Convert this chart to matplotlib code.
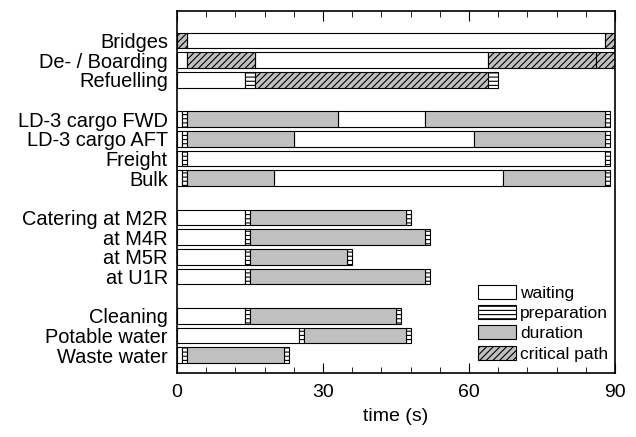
import matplotlib
matplotlib.use("Agg")
import matplotlib.pyplot as plt
from matplotlib.patches import Patch
from matplotlib.ticker import MultipleLocator

plt.rcParams["font.family"] = "Liberation Sans"
plt.rcParams["hatch.linewidth"] = 0.8

labels = ["Bridges", "De- / Boarding", "Refuelling",
          "LD-3 cargo FWD", "LD-3 cargo AFT", "Freight", "Bulk",
          "Catering at M2R", "at M4R", "at M5R", "at U1R",
          "Cleaning", "Potable water", "Waste water"]
rows = [0, 1, 2, 4, 5, 6, 7, 9, 10, 11, 12, 14, 15, 16]

# (row label, start, end) in seconds
waiting = [("Bridges", 2, 88),
           ("De- / Boarding", 0, 2), ("De- / Boarding", 16, 64),
           ("Refuelling", 0, 14),
           ("LD-3 cargo FWD", 0, 1), ("LD-3 cargo FWD", 33, 51),
           ("LD-3 cargo AFT", 0, 1), ("LD-3 cargo AFT", 24, 61),
           ("Freight", 0, 1), ("Freight", 2, 88),
           ("Bulk", 0, 1), ("Bulk", 20, 67),
           ("Catering at M2R", 0, 14), ("at M4R", 0, 14),
           ("at M5R", 0, 14), ("at U1R", 0, 14),
           ("Cleaning", 0, 14), ("Potable water", 0, 25),
           ("Waste water", 0, 1)]

preparation = [("Refuelling", 14, 16), ("Refuelling", 64, 66),
               ("LD-3 cargo FWD", 1, 2), ("LD-3 cargo FWD", 88, 89),
               ("LD-3 cargo AFT", 1, 2), ("LD-3 cargo AFT", 88, 89),
               ("Freight", 1, 2), ("Freight", 88, 89),
               ("Bulk", 1, 2), ("Bulk", 88, 89),
               ("Catering at M2R", 14, 15), ("Catering at M2R", 47, 48),
               ("at M4R", 14, 15), ("at M4R", 51, 52),
               ("at M5R", 14, 15), ("at M5R", 35, 36),
               ("at U1R", 14, 15), ("at U1R", 51, 52),
               ("Cleaning", 14, 15), ("Cleaning", 45, 46),
               ("Potable water", 25, 26), ("Potable water", 47, 48),
               ("Waste water", 1, 2), ("Waste water", 22, 23)]

duration = [("LD-3 cargo FWD", 2, 33), ("LD-3 cargo FWD", 51, 88),
            ("LD-3 cargo AFT", 2, 24), ("LD-3 cargo AFT", 61, 88),
            ("Bulk", 2, 20), ("Bulk", 67, 88),
            ("Catering at M2R", 15, 47), ("at M4R", 15, 51),
            ("at M5R", 15, 35), ("at U1R", 15, 51),
            ("Cleaning", 15, 45), ("Potable water", 26, 47),
            ("Waste water", 2, 22)]

critical = [("Bridges", 0, 2), ("Bridges", 88, 90),
            ("De- / Boarding", 2, 16), ("De- / Boarding", 64, 86),
            ("De- / Boarding", 86, 90),
            ("Refuelling", 16, 64)]

styles = {
    "waiting": dict(facecolor="white", hatch=None),
    "preparation": dict(facecolor="white", hatch="----"),
    "duration": dict(facecolor="#c0c0c0", hatch=None),
    "critical path": dict(facecolor="#c0c0c0", hatch="/////"),
}

pos = dict(zip(labels, rows))

fig = plt.figure(figsize=(6.36, 4.37), dpi=100)
ax = fig.add_axes([0.2783, 0.1465, 0.6887, 0.8283])

for name, segs in [("waiting", waiting), ("preparation", preparation),
                   ("duration", duration), ("critical path", critical)]:
    st = styles[name]
    ax.barh([pos[s[0]] for s in segs], [s[2] - s[1] for s in segs],
            left=[s[1] for s in segs], height=0.8,
            facecolor=st["facecolor"], hatch=st["hatch"],
            edgecolor="black", linewidth=0.8)

ax.set_xlim(0, 90)
ax.set_ylim(16.9, -1.5)
ax.set_yticks(rows)
ax.set_yticklabels(labels, fontsize=14.4)
ax.xaxis.set_major_locator(MultipleLocator(30))
ax.xaxis.set_minor_locator(MultipleLocator(6))
ax.tick_params(axis="x", which="both", direction="in", top=True,
               labelsize=14, pad=8)
ax.tick_params(axis="x", which="major", length=7)
ax.tick_params(axis="x", which="minor", length=4)
ax.tick_params(axis="y", length=0, pad=6.5)
ax.set_xlabel("time (s)", fontsize=14, labelpad=5)
for sp in ax.spines.values():
    sp.set_linewidth(1.2)

handles = [Patch(facecolor=styles[k]["facecolor"], hatch=styles[k]["hatch"],
                 edgecolor="black", linewidth=0.8, label=k) for k in styles]
ax.legend(handles=handles, loc="lower right", bbox_to_anchor=(1.0, 0.012),
          frameon=False, fontsize=12.5,
          handlelength=2.2, handleheight=0.85, labelspacing=0.25,
          handletextpad=0.2, borderaxespad=0.0)

fig.savefig("out.png", dpi=100)
